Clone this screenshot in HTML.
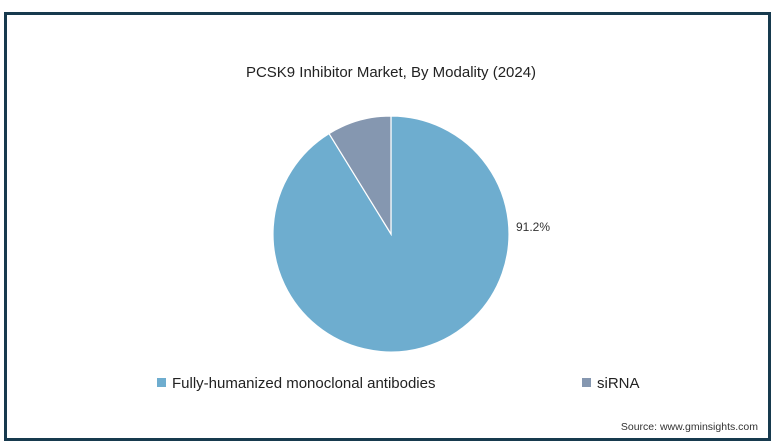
<!DOCTYPE html>
<html><head><meta charset="utf-8"><style>
body{margin:0;width:775px;height:445px;background:#fff;overflow:hidden;font-family:"Liberation Sans",sans-serif}
#frame{position:absolute;left:4px;top:12px;width:761px;height:423px;border:3px solid #173a4e;background:#fff}
</style></head><body>
<div id="frame"></div>
<svg width="775" height="445" style="position:absolute;left:0;top:0">
<text x="391" y="77" text-anchor="middle" font-size="15" fill="#222">PCSK9 Inhibitor Market, By Modality (2024)</text>
<g id="pie"></g>
<text x="516" y="231" font-size="12" fill="#333">91.2%</text>
<rect x="157" y="378" width="9" height="9" fill="#6eadcf"/>
<text x="172" y="388" font-size="15" fill="#222">Fully-humanized monoclonal antibodies</text>
<rect x="582" y="378" width="9" height="9" fill="#8597b0"/>
<text x="597" y="388" font-size="15" fill="#222">siRNA</text>
<text x="758" y="430" text-anchor="end" font-size="10.5" fill="#333">Source: www.gminsights.com</text>
</svg>
<script>
const categories=["Fully-humanized monoclonal antibodies","siRNA"];
const values=[91.2,8.8];
const colors=["#6eadcf","#8597b0"];
const cx=391,cy=234,r=118;
const g=document.getElementById('pie');
const total=values.reduce((a,b)=>a+b,0);
let a=0;
values.forEach((v,i)=>{
  const a2=a+v/total*2*Math.PI;
  const x1=cx+r*Math.sin(a),y1=cy-r*Math.cos(a),x2=cx+r*Math.sin(a2),y2=cy-r*Math.cos(a2);
  const p=document.createElementNS('http://www.w3.org/2000/svg','path');
  p.setAttribute('d',`M${cx},${cy}L${x1},${y1}A${r},${r} 0 ${a2-a>Math.PI?1:0} 1 ${x2},${y2}Z`);
  p.setAttribute('fill',colors[i]);
  p.setAttribute('stroke','#fff');
  p.setAttribute('stroke-width','1.2');
  
  
  g.appendChild(p);
  a=a2;
});
</script>
</body></html>
